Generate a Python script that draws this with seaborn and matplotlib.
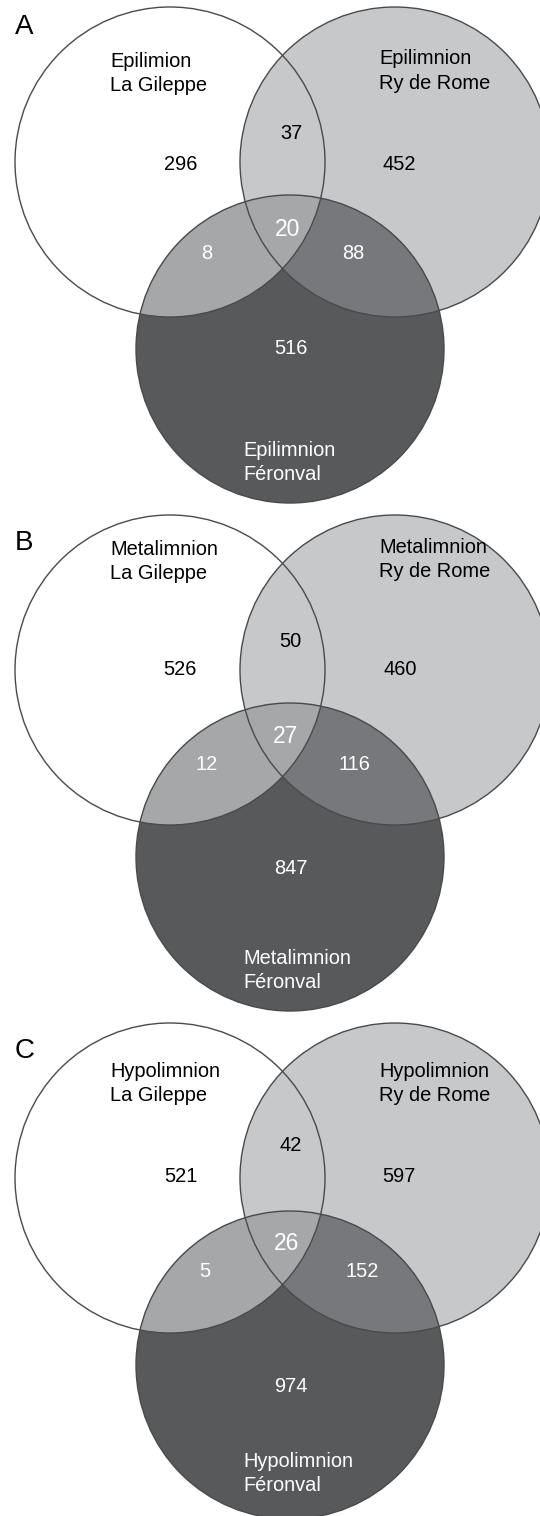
import matplotlib
matplotlib.use("Agg")
import matplotlib.pyplot as plt
from matplotlib.patches import Circle
import seaborn as sns

# ---------------- data ----------------
panels = ["A", "B", "C"]
layers_left = ["Epilimion", "Metalimnion", "Hypolimnion"]
layers = ["Epilimnion", "Metalimnion", "Hypolimnion"]
sites = ["La Gileppe", "Ry de Rome", "Féronval"]

only_gileppe = [296, 526, 521]
only_rome = [452, 460, 597]
only_feronval = [516, 847, 974]
gileppe_rome = [37, 50, 42]
gileppe_feronval = [8, 12, 5]
rome_feronval = [88, 116, 152]
all_three = [20, 27, 26]

# ---------------- style ----------------
sns.set_theme(style="white")
plt.rcParams["font.family"] = ["Liberation Sans", "DejaVu Sans"]
pal = sns.color_palette(["#ffffff", "#c7c8ca", "#58595b", "#a6a7a9", "#77787b"])
WHITE, LIGHT, DARK, MID, MID2 = pal
EDGE = "#4a4a4a"

fig = plt.figure(figsize=(5.40, 15.16), dpi=100)
ax = fig.add_axes([0, 0, 1, 1])
ax.set_xlim(0, 540)
ax.set_ylim(1516, 0)
ax.set_aspect("equal")
ax.axis("off")

offsets = [0, 508, 1016]
R = 155
cL = (170, 162)
cR = (395, 162)
cF = (290, 349)
RF = 154

# text positions per panel (baselines)
lab_left_y = [(67, 91), (555, 579), (1077, 1101)]
lab_right_y = [(64, 89), (553, 577), (1077, 1101)]
lab_bot_y = [(456, 480), (964, 988), (1467, 1491)]
letter_y = [34, 550, 1058]
n_lr = [(291, 139), (290, 647), (291, 1151)]
n_l = [(181, 170), (180, 675), (181, 1182)]
n_r = [(399, 170), (400, 675), (399, 1182)]
n_all = [(288, 236), (286, 743), (287, 1250)]
n_lf = [(207, 259), (207, 770), (205, 1277)]
n_rf = [(353, 259), (354, 770), (362, 1277)]
n_f = [(291, 354), (291, 874), (291, 1392)]

FS = 14.4
for i, off in enumerate(offsets):
    L = (cL[0], cL[1] + off)
    Rc = (cR[0], cR[1] + off)
    F = (cF[0], cF[1] + off)
    ax.add_patch(Circle(L, R, facecolor=WHITE, edgecolor="none", zorder=1))
    ax.add_patch(Circle(Rc, R, facecolor=LIGHT, edgecolor="none", zorder=2))
    fcirc = Circle(F, RF, facecolor=DARK, edgecolor="none", zorder=3)
    ax.add_patch(fcirc)
    p1 = Circle(Rc, R, facecolor=MID2, edgecolor="none", zorder=4)
    ax.add_patch(p1)
    p1.set_clip_path(fcirc)
    p2 = Circle(L, R, facecolor=MID, edgecolor="none", zorder=5)
    ax.add_patch(p2)
    p2.set_clip_path(fcirc)
    for c, r in [(L, R), (Rc, R), (F, RF)]:
        ax.add_patch(Circle(c, r, facecolor="none", edgecolor=EDGE, lw=1.0, zorder=6))

    ax.text(15, letter_y[i], panels[i], fontsize=20, color="black", va="baseline", ha="left", zorder=7)
    ax.text(110, lab_left_y[i][0], layers_left[i], fontsize=FS, va="baseline", ha="left", color="black", zorder=7)
    ax.text(110, lab_left_y[i][1], sites[0], fontsize=FS, va="baseline", ha="left", color="black", zorder=7)
    ax.text(379, lab_right_y[i][0], layers[i], fontsize=FS, va="baseline", ha="left", color="black", zorder=7)
    ax.text(379, lab_right_y[i][1], sites[1], fontsize=FS, va="baseline", ha="left", color="black", zorder=7)
    ax.text(243, lab_bot_y[i][0], layers[i], fontsize=FS, va="baseline", ha="left", color="white", zorder=7)
    ax.text(243, lab_bot_y[i][1], sites[2], fontsize=FS, va="baseline", ha="left", color="white", zorder=7)

    def num(pos, val, color, fs=FS):
        ax.text(pos[0], pos[1], str(val), fontsize=fs, ha="center", va="baseline", color=color, zorder=7)

    num(n_lr[i], gileppe_rome[i], "black")
    num(n_l[i], only_gileppe[i], "black")
    num(n_r[i], only_rome[i], "black")
    num(n_all[i], all_three[i], "white", fs=16.5)
    num(n_lf[i], gileppe_feronval[i], "white")
    num(n_rf[i], rome_feronval[i], "white")
    num(n_f[i], only_feronval[i], "white")

fig.savefig("out.png", dpi=100)
